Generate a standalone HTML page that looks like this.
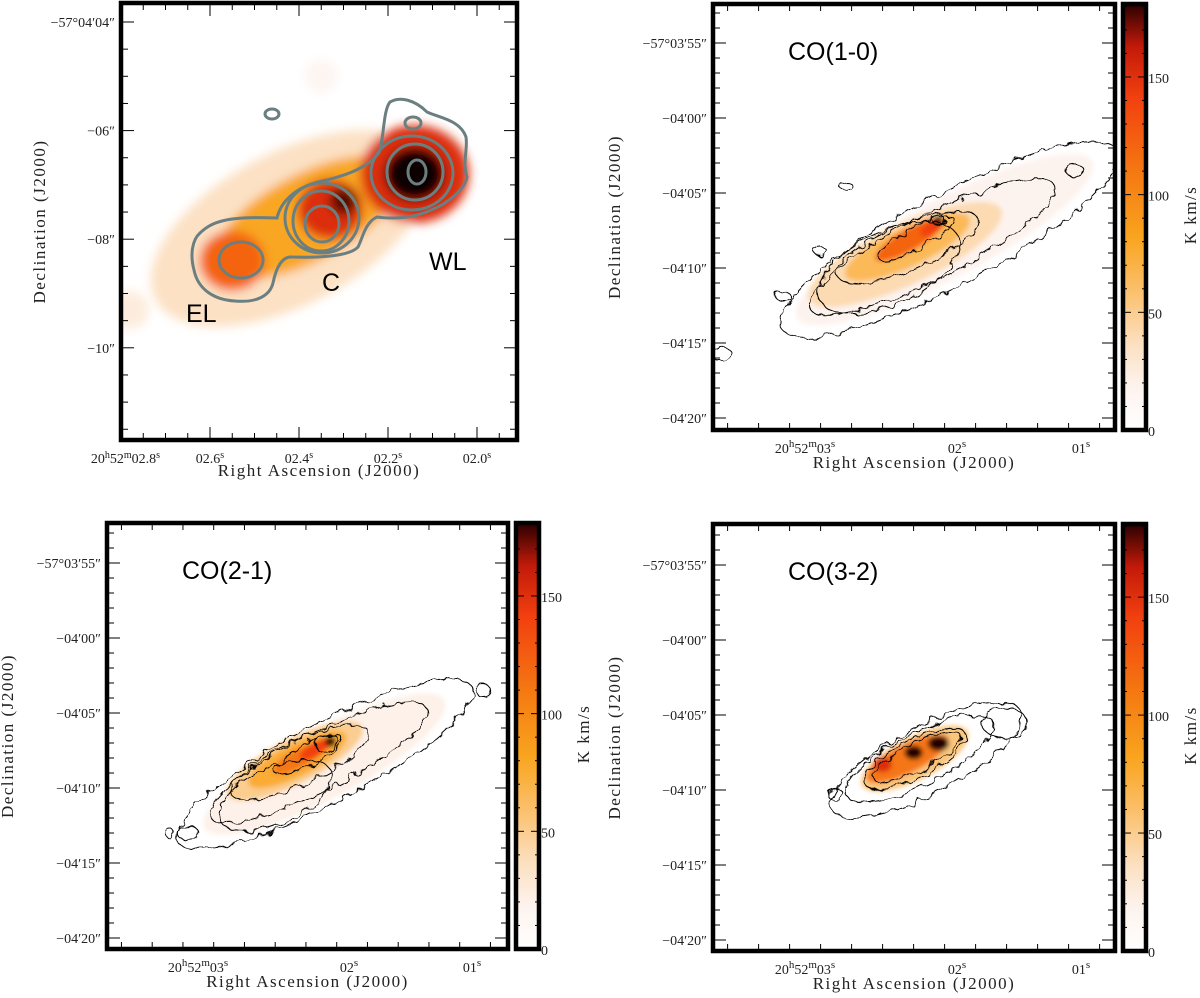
<!DOCTYPE html>
<html><head><meta charset="utf-8">
<style>
html,body{margin:0;padding:0;background:#fff;}
svg{display:block;}
.tk{font-family:"Liberation Serif",serif;font-size:14px;fill:#222;}
.tt{font-family:"Liberation Serif",serif;font-size:17px;fill:#222;letter-spacing:1.5px;}
.co{font-family:"Liberation Sans",sans-serif;font-size:25px;fill:#000;}
</style></head>
<body>
<svg id="fig" width="1200" height="998" viewBox="0 0 1200 998" xmlns="http://www.w3.org/2000/svg">
<defs>
<filter id="b1" x="-50%" y="-50%" width="200%" height="200%"><feGaussianBlur stdDeviation="5"/></filter>
<filter id="b2" x="-50%" y="-50%" width="200%" height="200%"><feGaussianBlur stdDeviation="2.5"/></filter>
<filter id="wob" x="-20%" y="-20%" width="140%" height="140%"><feTurbulence type="fractalNoise" baseFrequency="0.09" numOctaves="2" seed="3"/><feDisplacementMap in="SourceGraphic" scale="9"/></filter>
<linearGradient id="cbar" x1="0" y1="1" x2="0" y2="0">
<stop offset="0" stop-color="#ffffff"/><stop offset="0.1" stop-color="#fdf3ee"/>
<stop offset="0.2" stop-color="#fce0c2"/><stop offset="0.33" stop-color="#fbbf6a"/>
<stop offset="0.45" stop-color="#f9a51f"/><stop offset="0.6" stop-color="#f57a12"/>
<stop offset="0.78" stop-color="#f2400f"/><stop offset="0.9" stop-color="#c21a0a"/>
<stop offset="1" stop-color="#2a0000"/></linearGradient>
<clipPath id="c1"><rect x="121" y="3" width="396" height="437"/></clipPath>
<clipPath id="c2"><rect x="713" y="4" width="402" height="426"/></clipPath>
<clipPath id="c3"><rect x="107" y="523" width="401" height="426"/></clipPath>
<clipPath id="c4"><rect x="713" y="524" width="402" height="427"/></clipPath>
</defs>
</svg>
<script>
// ---------- data ----------
const p1Ra  = [2.42, 2.38, 2.55, 2.33, 2.14, 2.30, 2.14, 2.78, 2.35];
const p1Dec = [7.8, 7.6, 8.4, 7.45, 6.8, 7.3, 6.8, 9.3, 5.0];
const p1Rx  = [2.8, 1.9, 0.6, 0.6, 1.0, 0.25, 0.55, 0.35, 0.3];
const p1Ry  = [1.4, 0.8, 0.55, 0.55, 0.9, 0.25, 0.5, 0.35, 0.3];
const p1Ang = [-28, -28, 0, 0, 0, 0, 0, 0, 0];
const p1Val = [35, 80, 120, 150, 150, 175, 240, 25, 15];
const p2Ra=[2.10,2.42,2.40,2.38,2.20,2.153], p2Dec=[68.1,69.1,68.6,68.1,67.3,66.8], p2Rx=[11,7,4.5,2.6,0.9,0.3], p2Ry=[2.6,2.0,1.3,0.7,0.4,0.3], p2Ang=[-28,-25,-25,-30,-30,0], p2Val=[18,40,65,120,140,190];
const p3Ra=[2.20,2.44,2.42,2.40,2.27,2.15], p3Dec=[68.4,68.2,68.1,68.0,67.4,66.9], p3Rx=[9,5,3.6,2.0,1.2,0.35], p3Ry=[2.3,1.5,1.1,0.6,0.45,0.35], p3Ang=[-28,-27,-27,-28,-30,0], p3Val=[20,50,75,110,140,190];
const p4Ra=[2.34,2.40,2.60,2.35,2.15], p4Dec=[67.9,67.9,68.3,67.5,66.9], p4Rx=[3.9,3.0,0.6,0.6,0.7], p4Ry=[1.4,0.95,0.5,0.45,0.5], p4Ang=[-27,-27,0,0,0], p4Val=[55,110,150,185,190];
const c2Ra=[2.06,2.55,2.20,2.40,2.33,2.15,3.10,2.90,1.05,3.40,3.90], c2Dec=[68.1,70.0,68.6,68.6,68.0,66.8,68.9,64.5,63.5,71.9,75.7], c2Rx=[12.5,5,9,5.0,2.8,0.4,0.4,0.4,0.6,0.5,0.6], c2Ry=[3.0,2.4,2.1,1.5,0.7,0.35,0.3,0.3,0.4,0.3,0.5], c2Ang=[-28,-25,-27,-22,-28,0,0,0,0,0,0];
const c3Ra=[2.20,2.60,2.25,2.40,2.33,2.18,0.91,3.31,3.46], c3Dec=[68.4,70.5,68.3,68.3,67.8,67.0,63.5,73.0,73.0], c3Rx=[11,4,8,5,2.5,0.8,0.5,0.7,0.3], c3Ry=[2.6,1.9,1.9,1.4,0.7,0.5,0.4,0.5,0.3], c3Ang=[-28,-25,-27,-25,-28,-20,0,0,0];
const c4Ra=[2.25,1.62,2.98,2.30,2.34,2.32], c4Dec=[68.0,65.5,70.3,67.9,67.9,67.8], c4Rx=[7,1.5,0.5,5.4,3.7,3.2], c4Ry=[2.2,1.0,0.4,1.7,1.25,0.9], c4Ang=[-28,0,0,-27,-27,-27];
const cbTicks=[0,50,100,150];
const p1XTicks=[2.6,2.4,2.2,2.0], p1XLab=["02.6","02.4","02.2","02.0"];
const p1YTicks=[4,6,8,10], p1YLab=["\u221257\u00b004\u203204\u2033","\u221206\u2033","\u221208\u2033","\u221210\u2033"];
const pXTicks=[3,2,1], pXLab=["03","02","01"];
const pYTicks=[55,60,65,70,75,80], pYLab=["\u221257\u00b003\u203255\u2033","\u221204\u203200\u2033","\u221204\u203205\u2033","\u221204\u203210\u2033","\u221204\u203215\u2033","\u221204\u203220\u2033"];

const NS="http://www.w3.org/2000/svg";
const svg=document.getElementById('fig');
function mk(tag,attrs,parent){const e=document.createElementNS(NS,tag);for(const k in attrs)e.setAttribute(k,attrs[k]);(parent||svg).appendChild(e);return e;}
const stops=[[0,[255,255,255]],[18,[253,243,238]],[36,[252,224,194]],[60,[251,191,106]],[81,[249,165,31]],[108,[245,122,18]],[140,[242,64,15]],[162,[194,26,10]],[180,[42,0,0]],[260,[0,0,0]]];
function cmap(v){for(let i=1;i<stops.length;i++){if(v<=stops[i][0]){const a=stops[i-1],b=stops[i],t=(v-a[0])/(b[0]-a[0]);const c=a[1].map((x,j)=>Math.round(x+(b[1][j]-x)*t));return `rgb(${c})`;}}return '#000';}

const panels=[
 {id:1,f:[121,3,517,440],x:ra=>388-(ra-2.2)*445,y:d=>22+(d-4)*54.3,s:54.4},
 {id:2,f:[713,4,1115,430],x:ra=>957-(ra-2)*124,y:d=>43+(d-55)*15,s:15.2},
 {id:3,f:[107,523,508,949],x:ra=>349-(ra-2)*123,y:d=>563+(d-55)*15,s:15.1},
 {id:4,f:[713,524,1115,951],x:ra=>957-(ra-2)*124,y:d=>565+(d-55)*15,s:15.2}];
const fills=[[p1Ra,p1Dec,p1Rx,p1Ry,p1Ang,p1Val],[p2Ra,p2Dec,p2Rx,p2Ry,p2Ang,p2Val],[p3Ra,p3Dec,p3Rx,p3Ry,p3Ang,p3Val],[p4Ra,p4Dec,p4Rx,p4Ry,p4Ang,p4Val]];
const conts=[null,[c2Ra,c2Dec,c2Rx,c2Ry,c2Ang],[c3Ra,c3Dec,c3Rx,c3Ry,c3Ang],[c4Ra,c4Dec,c4Rx,c4Ry,c4Ang]];

panels.forEach((p,pi)=>{
  const [x0,y0,x1,y1]=p.f;
  const g=mk('g',{'clip-path':`url(#c${p.id})`});
  
  
  const eg=mk('g',{filter:p.id===1?'url(#b1)':'url(#b2)'},g);
  
  
  const F=fills[pi];
  for(let i=0;i<F[0].length;i++){
    const cx=p.x(F[0][i]),cy=p.y(F[1][i]);
    const e=mk('ellipse',{cx,cy,rx:F[2][i]*p.s,ry:F[3][i]*p.s,fill:cmap(F[5][i]),transform:`rotate(${F[4][i]} ${cx} ${cy})`},eg);
    
    
  }
  const C=conts[pi];
  if(C){
    const cg=mk('g',{filter:'url(#wob)',fill:'none',stroke:'#000','stroke-width':1},g);
    
    
    for(let i=0;i<C[0].length;i++){
      const cx=p.x(C[0][i]),cy=p.y(C[1][i]);
      const e=mk('ellipse',{cx,cy,rx:C[2][i]*p.s,ry:C[3][i]*p.s,transform:`rotate(${C[4][i]} ${cx} ${cy})`},cg);
      
      
    }
  } else {
    const cg=mk('g',{fill:'none',stroke:'#6b7f80','stroke-width':3},g);
    
    
    const env=mk('path',{d:'M200,233 C212,222 225,216 277,218 C280,205 292,186 327,180 C350,174 368,167 379,153 C384,140 383,110 390,102 C400,96 415,100 427,112 C440,118 460,120 466,137 C468,150 462,163 467,177 C465,190 445,205 431,210 C418,216 400,220 377,217 C365,222 362,240 358,247 C350,256 320,258 292,257 C282,256 276,268 273,283 C270,295 258,303 235,301 C215,300 198,290 194,270 C190,255 192,240 200,233 Z'},cg);
    
    
    [[417,172,9,12],[415,172,28,28],[412,173,41,37],[322,224,17,18],[321,221,28,30],[322,218,37,35],[241,260,22,18],[272,114,7,5],[413,123,8,6]].forEach(a=>{
      const e=mk('ellipse',{cx:a[0],cy:a[1],rx:a[2],ry:a[3]},cg);
      
      
    });
  }
  const fr=mk('rect',{x:x0,y:y0,width:x1-x0,height:y1-y0,fill:'none',stroke:'#000','stroke-width':4.5});
  
  
  const tg=mk('g',{stroke:'#000','stroke-width':1});
  
  
  const isP1=p.id===1;
  const raMin=isP1?1.9:0.6, raMax=isP1?2.8:3.9, raStep=isP1?0.05:0.25;
  for(let r=raMin;r<=raMax+1e-6;r+=raStep){
    const X=p.x(r); if(X<x0+3||X>x1-3)continue;
    const maj=isP1?Math.abs(Math.round(r*5)-r*5)<1e-6:Math.abs(Math.round(r)-r)<1e-6;
    const L=maj?13:7;
    mk('line',{x1:X,y1:y0,x2:X,y2:y0+L},tg);mk('line',{x1:X,y1:y1,x2:X,y2:y1-L},tg);
  }
  const dMin=isP1?0:50,dMax=isP1?12:82,dStep=isP1?0.5:1;
  for(let d=dMin;d<=dMax+1e-6;d+=dStep){
    const Y=p.y(d); if(Y<y0+3||Y>y1-3)continue;
    const maj=isP1?Math.abs(d/2-Math.round(d/2))<1e-6:d%5===0;
    const L=maj?13:7;
    mk('line',{x1:x0,y1:Y,x2:x0+L,y2:Y},tg);mk('line',{x1:x1,y1:Y,x2:x1-L,y2:Y},tg);
  }
  const fs=isP1?'13':'14.5';
  const yt=isP1?p1YTicks:pYTicks, yl=isP1?p1YLab:pYLab;
  yt.forEach((d,i)=>{const t=mk('text',{x:x0-6,y:p.y(d)+5,'text-anchor':'end',class:'tk','font-size':fs});t.textContent=yl[i];
    });
  const ly=y1+23;
  if(isP1){
    const t0=mk('text',{x:160,y:ly,'text-anchor':'end',class:'tk','font-size':fs});
    t0.innerHTML='20<tspan dy="-5" font-size="10">h</tspan><tspan dy="5">52</tspan><tspan dy="-5" font-size="10">m</tspan><tspan dy="5">02.8</tspan><tspan dy="-5" font-size="10">s</tspan>';
    
    p1XTicks.forEach((r,i)=>{const t=mk('text',{x:p.x(r),y:ly,'text-anchor':'middle',class:'tk','font-size':fs});
      t.innerHTML=p1XLab[i]+'<tspan dy="-5" font-size="10">s</tspan>';
      });
  } else {
    pXTicks.forEach((r,i)=>{const t=mk('text',{x:p.x(r)+(r===3?-28:0),y:ly,'text-anchor':'middle',class:'tk','font-size':'16'});
      t.innerHTML=(r===3?'20<tspan dy="-6" font-size="11">h</tspan><tspan dy="6">52</tspan><tspan dy="-6" font-size="11">m</tspan><tspan dy="6">03</tspan>':pXLab[i])+'<tspan dy="-6" font-size="11">s</tspan>';
      });
  }
  const xt=mk('text',{x:(x0+x1)/2,y:y1+(isP1?36:38),'text-anchor':'middle',class:'tt','font-size':isP1?'15':'17'});
  xt.textContent='Right Ascension (J2000)';
  
  const axx=isP1?45:(p.id===3?13:620);
  const yc=(y0+y1)/2;
  const ytt=mk('text',{x:axx,y:yc,'text-anchor':'middle',class:'tt','font-size':isP1?'15':'17',transform:`rotate(-90 ${axx} ${yc})`});
  ytt.textContent='Declination (J2000)';
  
  if(!isP1){
    const co=mk('text',{x:x0+75,y:y0+56,class:'co'});
    co.textContent=['','','CO(1-0)','CO(2-1)','CO(3-2)'][p.id];
    
    const cx0=x1+8, cw=23;
    const cb=mk('rect',{x:cx0,y:y0,width:cw,height:y1-y0,fill:'url(#cbar)',stroke:'#000','stroke-width':4.5});
    
    const vmax=181, cy=v=>y1-(v/vmax)*(y1-y0);
    for(let v=10;v<vmax;v+=10){const Y=cy(v);const L=v%50===0?8:4;
      mk('line',{x1:cx0,y1:Y,x2:cx0+L,y2:Y,stroke:'#000'});mk('line',{x1:cx0+cw,y1:Y,x2:cx0+cw-L,y2:Y,stroke:'#000'});}
    cbTicks.forEach(v=>{const t=mk('text',{x:cx0+cw+2,y:cy(v)+6,class:'tk','font-size':'16'});t.textContent=v;
      });
    const kx=cx0+cw+50, ky=(y0+y1)/2-2;
    const kt=mk('text',{x:kx,y:ky,'text-anchor':'middle',class:'tt','font-size':'18',transform:`rotate(-90 ${kx} ${ky})`});
    kt.textContent='K km/s';
  }
});
[['EL',186,322],['C',322,291],['WL',429,270]].forEach(a=>{
  const t=mk('text',{x:a[1],y:a[2],class:'co','font-size':'24'});t.textContent=a[0];
  });
</script>
</body></html>
